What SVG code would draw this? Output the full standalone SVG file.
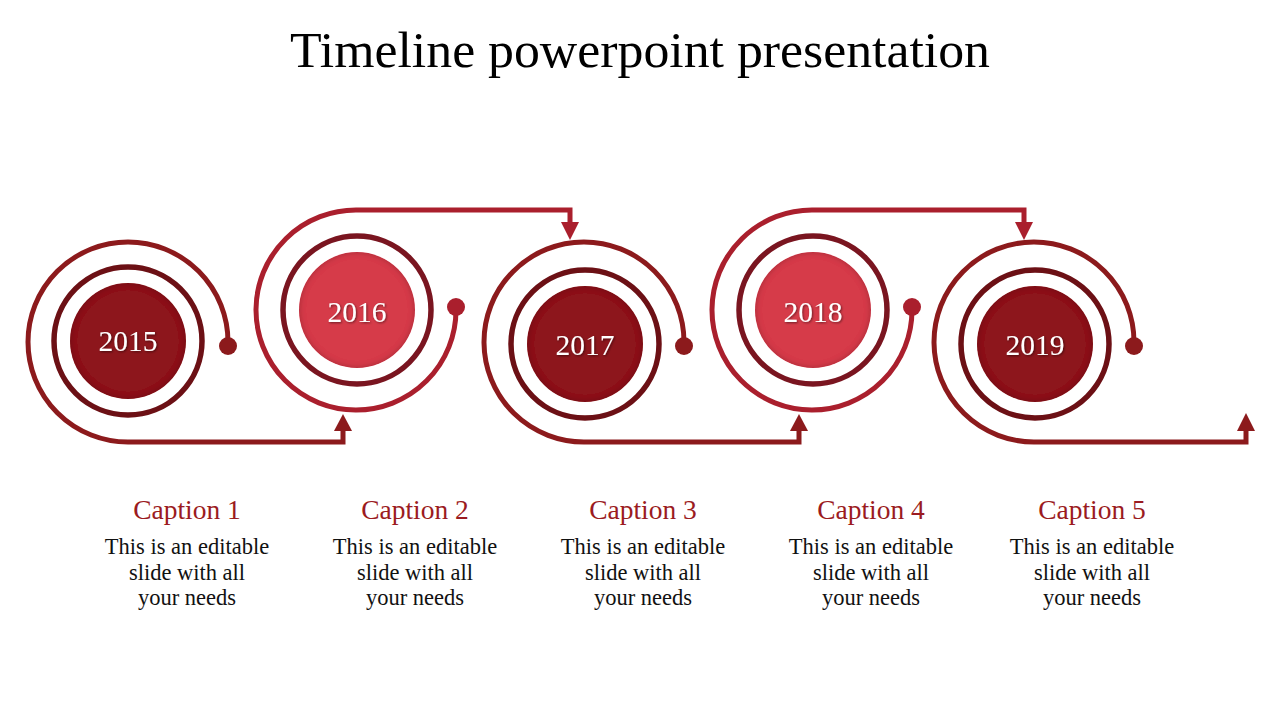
<svg xmlns="http://www.w3.org/2000/svg" width="1280" height="720" viewBox="0 0 1280 720">
<defs>
<filter id="inset" x="-10%" y="-10%" width="120%" height="120%">
<feGaussianBlur in="SourceAlpha" stdDeviation="3" result="blur"/>
<feComposite in="SourceAlpha" in2="blur" operator="arithmetic" k2="1" k3="-1" result="edge"/>
<feFlood flood-color="#000" flood-opacity="0.5"/>
<feComposite in2="edge" operator="in" result="shadow"/>
<feMerge><feMergeNode in="SourceGraphic"/><feMergeNode in="shadow"/></feMerge>
</filter>
<filter id="tshadow" x="-20%" y="-20%" width="140%" height="140%">
<feDropShadow dx="1" dy="1" stdDeviation="0.8" flood-color="#000" flood-opacity="0.5"/>
</filter>
</defs>
<style>
.dk{fill:none;stroke:#8c1a1c;stroke-width:5}
.lt{fill:none;stroke:#aa1f2d;stroke-width:5}
.ring{fill:none;stroke-width:5.5}
.ringd{stroke:#6c1015}
.ringl{stroke:#7a1520}
.discd{fill:#8d181b}
.discl{fill:#d63a4a}
.yr{font-family:"Liberation Serif",serif;font-size:29.5px;fill:#fff;text-anchor:middle}
.cap{font-family:"Liberation Serif",serif;font-size:27.5px;fill:#9b1b21;text-anchor:middle}
.body{font-family:"Liberation Serif",serif;font-size:22.5px;fill:#111;text-anchor:middle}
.title{font-family:"Liberation Serif",serif;font-size:51.5px;fill:#000;text-anchor:middle}
</style>
<rect width="1280" height="720" fill="#fff"/>
<text class="title" x="640" y="67" textLength="700" lengthAdjust="spacingAndGlyphs">Timeline powerpoint presentation</text>

<g id="connectors">
<path class="dk" d="M228,346 V342 A100,100 0 1 0 128,442 H343 V428"/>
<polygon fill="#8c1a1c" points="334,431 352,431 343,414"/>
<circle cx="228" cy="346" r="9" fill="#8c1a1c"/>

<path class="lt" d="M456,307 V310 A100,100 0 1 1 357,210 H570 V224"/>
<polygon fill="#aa1f2d" points="561,222 579,222 570,240"/>
<circle cx="456" cy="307" r="9" fill="#aa1f2d"/>

<path class="dk" d="M684,346 V342 A100,100 0 1 0 585,442 H799 V428"/>
<polygon fill="#8c1a1c" points="790,431 808,431 799,414"/>
<circle cx="684" cy="346" r="9" fill="#8c1a1c"/>

<path class="lt" d="M912,307 V310 A100,100 0 1 1 813,210 H1024 V224"/>
<polygon fill="#aa1f2d" points="1015,222 1033,222 1024,240"/>
<circle cx="912" cy="307" r="9" fill="#aa1f2d"/>

<path class="dk" d="M1134,346 V342 A100,100 0 1 0 1035,442 H1246 V428"/>
<polygon fill="#8c1a1c" points="1237,431 1255,431 1246,413"/>
<circle cx="1134" cy="346" r="9" fill="#8c1a1c"/>
</g>

<g id="node-2015">
<circle class="ring ringd" cx="128" cy="341" r="74"/>
<circle class="discd" cx="128" cy="341" r="58" filter="url(#inset)"/>
<text class="yr" x="128" y="351" filter="url(#tshadow)">2015</text>
</g>
<g id="node-2016">
<circle class="ring ringl" cx="357" cy="310" r="74"/>
<circle class="discl" cx="357" cy="310" r="58" filter="url(#inset)"/>
<text class="yr" x="357" y="322" filter="url(#tshadow)">2016</text>
</g>
<g id="node-2017">
<circle class="ring ringd" cx="585" cy="344" r="74"/>
<circle class="discd" cx="585" cy="344" r="58" filter="url(#inset)"/>
<text class="yr" x="585" y="355" filter="url(#tshadow)">2017</text>
</g>
<g id="node-2018">
<circle class="ring ringl" cx="813" cy="310" r="74"/>
<circle class="discl" cx="813" cy="310" r="58" filter="url(#inset)"/>
<text class="yr" x="813" y="322" filter="url(#tshadow)">2018</text>
</g>
<g id="node-2019">
<circle class="ring ringd" cx="1035" cy="344" r="74"/>
<circle class="discd" cx="1035" cy="344" r="58" filter="url(#inset)"/>
<text class="yr" x="1035" y="355" filter="url(#tshadow)">2019</text>
</g>

<g id="caption-1">
<text class="cap" x="187" y="519">Caption 1</text>
<text class="body" x="187" y="554">This is an editable</text>
<text class="body" x="187" y="580">slide with all</text>
<text class="body" x="187" y="605">your needs</text>
</g>
<g id="caption-2">
<text class="cap" x="415" y="519">Caption 2</text>
<text class="body" x="415" y="554">This is an editable</text>
<text class="body" x="415" y="580">slide with all</text>
<text class="body" x="415" y="605">your needs</text>
</g>
<g id="caption-3">
<text class="cap" x="643" y="519">Caption 3</text>
<text class="body" x="643" y="554">This is an editable</text>
<text class="body" x="643" y="580">slide with all</text>
<text class="body" x="643" y="605">your needs</text>
</g>
<g id="caption-4">
<text class="cap" x="871" y="519">Caption 4</text>
<text class="body" x="871" y="554">This is an editable</text>
<text class="body" x="871" y="580">slide with all</text>
<text class="body" x="871" y="605">your needs</text>
</g>
<g id="caption-5">
<text class="cap" x="1092" y="519">Caption 5</text>
<text class="body" x="1092" y="554">This is an editable</text>
<text class="body" x="1092" y="580">slide with all</text>
<text class="body" x="1092" y="605">your needs</text>
</g>
</svg>
